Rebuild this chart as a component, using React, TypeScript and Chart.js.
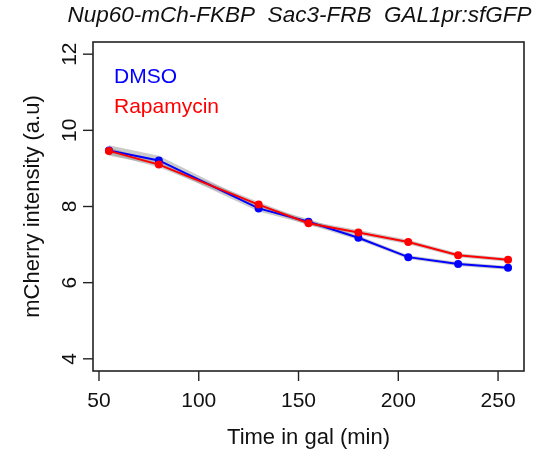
import React, { useEffect, useRef } from 'react';
import { Chart, registerables } from 'chart.js';

Chart.register(...registerables);

const timeMin = [55, 80, 130, 155, 180, 205, 230, 255];
const dmsoValues = [9.47, 9.21, 7.95, 7.6, 7.18, 6.67, 6.49, 6.39];
const rapamycinValues = [9.46, 9.1, 8.05, 7.56, 7.32, 7.07, 6.72, 6.6];
const dmsoError = [0.14, 0.12, 0.08, 0.07, 0.06, 0.05, 0.05, 0.05];
const rapamycinError = [0.09, 0.07, 0.07, 0.06, 0.06, 0.06, 0.05, 0.05];
const xTicks = [50, 100, 150, 200, 250];
const yTicks = [4, 6, 8, 10, 12];
const titleText = 'Nup60-mCh-FKBP  Sac3-FRB  GAL1pr:sfGFP';
const xTitle = 'Time in gal (min)';
const yTitle = 'mCherry intensity (a.u)';
const legendLabels = ['DMSO', 'Rapamycin'];

const FONT = '"Liberation Sans", Arial, Helvetica, sans-serif';

const toPoints = (vals: number[]) => timeMin.map((x, i) => ({ x, y: vals[i] }));
const band = (vals: number[], err: number[], sign: number) =>
  timeMin.map((x, i) => ({ x, y: vals[i] + sign * err[i] }));

const rStylePlugin = {
  id: 'rStyle',
  afterDraw(chart: any) {
    const { ctx, chartArea } = chart;
    const xs = chart.scales.x;
    const ys = chart.scales.y;
    const { left, right, top, bottom } = chartArea;
    ctx.save();
    ctx.strokeStyle = '#222';
    ctx.lineWidth = 1.6;
    ctx.strokeRect(left, top, right - left, bottom - top);

    // x ticks
    ctx.lineWidth = 1.4;
    ctx.fillStyle = '#111';
    ctx.font = `21px ${FONT}`;
    ctx.textAlign = 'center';
    ctx.textBaseline = 'middle';
    xTicks.forEach((v) => {
      const px = xs.getPixelForValue(v);
      ctx.beginPath();
      ctx.moveTo(px, bottom);
      ctx.lineTo(px, bottom + 10);
      ctx.stroke();
      ctx.fillText(String(v), px, bottom + 30);
    });
    // y ticks
    yTicks.forEach((v) => {
      const py = ys.getPixelForValue(v);
      ctx.beginPath();
      ctx.moveTo(left, py);
      ctx.lineTo(left - 10, py);
      ctx.stroke();
      ctx.save();
      ctx.translate(left - 23, py);
      ctx.rotate(-Math.PI / 2);
      ctx.fillText(String(v), 0, 0);
      ctx.restore();
    });
    // axis titles
    const cx = (left + right) / 2;
    const cy = (top + bottom) / 2;
    ctx.font = `22px ${FONT}`;
    ctx.fillText(xTitle, cx, bottom + 67);
    ctx.save();
    ctx.translate(33, cy);
    ctx.rotate(-Math.PI / 2);
    ctx.fillText(yTitle, 0, 0);
    ctx.restore();
    // title
    ctx.font = `italic 22.5px ${FONT}`;
    ctx.fillText(titleText, cx - 9, 16);
    // legend
    ctx.font = `21px ${FONT}`;
    ctx.textAlign = 'left';
    ctx.textBaseline = 'alphabetic';
    ctx.fillStyle = '#0000ff';
    ctx.fillText(legendLabels[0], left + 21, top + 41);
    ctx.fillStyle = '#ff0000';
    ctx.fillText(legendLabels[1], left + 21, top + 71);
    ctx.restore();
  },
};

export default function App() {
  const ref = useRef<HTMLCanvasElement | null>(null);
  useEffect(() => {
    if (!ref.current) return;
    const gray = 'rgba(150,150,150,0.5)';
    const chart = new Chart(ref.current, {
      type: 'line',
      data: {
        datasets: [
          { label: 'dmsoLow', data: band(dmsoValues, dmsoError, -1), borderWidth: 0, pointRadius: 0, fill: false, order: 5 },
          { label: 'dmsoHigh', data: band(dmsoValues, dmsoError, 1), borderWidth: 0, pointRadius: 0, fill: '-1', backgroundColor: gray, order: 5 },
          { label: 'rapaLow', data: band(rapamycinValues, rapamycinError, -1), borderWidth: 0, pointRadius: 0, fill: false, order: 4 },
          { label: 'rapaHigh', data: band(rapamycinValues, rapamycinError, 1), borderWidth: 0, pointRadius: 0, fill: '-1', backgroundColor: gray, order: 4 },
          {
            label: legendLabels[0],
            data: toPoints(dmsoValues),
            borderColor: '#0000ff',
            backgroundColor: '#0000ff',
            borderWidth: 2,
            pointRadius: 4,
            pointBorderWidth: 0,
            pointBackgroundColor: '#0000ff',
            fill: false,
            order: 1,
          },
          {
            label: legendLabels[1],
            data: toPoints(rapamycinValues),
            borderColor: '#ff0000',
            backgroundColor: '#ff0000',
            borderWidth: 2,
            pointRadius: 4,
            pointBorderWidth: 0,
            pointBackgroundColor: '#ff0000',
            fill: false,
            order: 0,
          },
        ],
      },
      options: {
        responsive: false,
        animation: false,
        devicePixelRatio: 1,
        layout: { padding: { left: 93, right: 17, top: 42, bottom: 81 } },
        plugins: { legend: { display: false }, tooltip: { enabled: false } },
        elements: { line: { tension: 0 } },
        scales: {
          x: { type: 'linear', min: 47, max: 263, display: false },
          y: { type: 'linear', min: 3.68, max: 12.32, display: false },
        },
      },
      plugins: [rStylePlugin],
    });
    return () => chart.destroy();
  }, []);
  return (
    <div style={{ position: 'fixed', left: 0, top: 0, width: 541, height: 452, background: '#fff' }}>
      <canvas ref={ref} width={541} height={452} />
    </div>
  );
}
